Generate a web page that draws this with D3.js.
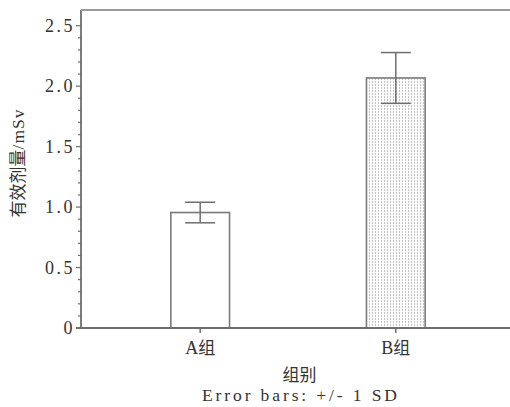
<!DOCTYPE html>
<html>
<head>
<meta charset="utf-8">
<script src="https://cdn.jsdelivr.net/npm/d3@7"></script>
<style>
  body { margin: 0; background: #fff; }
</style>
</head>
<body>
<svg id="chart" width="510" height="407"></svg>
<script>
// data
const groups = ["A组", "B组"];
const means = [0.955, 2.068];
const sds = [0.085, 0.21];
const yTicks = [0, 0.5, 1.0, 1.5, 2.0, 2.5];
const yTickLabels = ["0", "0.5", "1.0", "1.5", "2.0", "2.5"];

const latin = "Liberation Serif, DejaVu Serif, serif";
const cjk = "Noto Sans CJK SC, sans-serif";
const lineColor = "#6e6e6e";

const width = 510, height = 407;
const margin = { top: 10, right: 0, bottom: 79, left: 81 };
const plotBottom = height - margin.bottom;

const svg = d3.select("#chart");

const x = d3.scaleBand()
  .domain(groups)
  .range([margin.left + 3, width + 2])
  .paddingInner(0.7)
  .paddingOuter(0.444);

const y = d3.scaleLinear()
  .domain([0, 2.63])
  .range([plotBottom, margin.top]);

// dotted fill for group B
const defs = svg.append("defs");
const pat = defs.append("pattern")
  .attr("id", "dots")
  .attr("patternUnits", "userSpaceOnUse")
  .attr("width", 3)
  .attr("height", 3);
pat.append("rect").attr("width", 3).attr("height", 3).attr("fill", "#fff");
pat.append("rect").attr("width", 1).attr("height", 2).attr("fill", "#c4c4c4");

// bars
svg.append("g")
  .selectAll("rect")
  .data(groups)
  .join("rect")
  .attr("x", (d) => x(d))
  .attr("width", x.bandwidth())
  .attr("y", (d, i) => y(means[i]))
  .attr("height", (d, i) => y(0) - y(means[i]))
  .attr("fill", (d, i) => (i === 0 ? "#fff" : "url(#dots)"))
  .attr("stroke", "#7a7a7a")
  .attr("stroke-width", 1.6);

// error bars
const capHalf = 15;
const err = svg.append("g")
  .attr("stroke", lineColor)
  .attr("stroke-width", 1.5)
  .selectAll("g")
  .data(groups)
  .join("g")
  .attr("transform", (d) => `translate(${x(d) + x.bandwidth() / 2},0)`);
err.append("line")
  .attr("y1", (d, i) => y(means[i] + sds[i]))
  .attr("y2", (d, i) => y(means[i] - sds[i]));
err.append("line")
  .attr("x1", -capHalf).attr("x2", capHalf)
  .attr("y1", (d, i) => y(means[i] + sds[i]))
  .attr("y2", (d, i) => y(means[i] + sds[i]));
err.append("line")
  .attr("x1", -capHalf).attr("x2", capHalf)
  .attr("y1", (d, i) => y(means[i] - sds[i]))
  .attr("y2", (d, i) => y(means[i] - sds[i]));

// y axis: minor ticks every 0.1
const minor = d3.range(0, 26).map((k) => k / 10);
svg.append("g")
  .attr("stroke", lineColor)
  .attr("stroke-width", 1.2)
  .selectAll("line")
  .data(minor)
  .join("line")
  .attr("x1", (d) => (Math.abs(d * 2 - Math.round(d * 2)) < 1e-6 ? margin.left - 5 : margin.left - 3))
  .attr("x2", margin.left)
  .attr("y1", (d) => y(d))
  .attr("y2", (d) => y(d));

svg.append("g")
  .attr("font-family", latin)
  .attr("font-size", 18)
  .attr("letter-spacing", 2.5)
  .attr("fill", "#333")
  .attr("text-anchor", "end")
  .selectAll("text")
  .data(yTicks)
  .join("text")
  .attr("x", margin.left - 6)
  .attr("y", (d) => y(d))
  .attr("dy", "0.35em")
  .text((d, i) => yTickLabels[i]);

// frame lines: left, top, bottom
const frame = svg.append("g").attr("stroke", lineColor).attr("stroke-width", 1.8);
frame.append("line")
  .attr("x1", margin.left).attr("x2", margin.left)
  .attr("y1", y.range()[1]).attr("y2", y.range()[0]);
frame.append("line")
  .attr("x1", margin.left).attr("x2", width)
  .attr("y1", y.range()[1]).attr("y2", y.range()[1])
  .attr("stroke", "#9a9a9a");
frame.append("line")
  .attr("x1", margin.left - 5).attr("x2", width)
  .attr("y1", y(0)).attr("y2", y(0));

// x ticks and labels
const xt = svg.append("g")
  .selectAll("g")
  .data(groups)
  .join("g")
  .attr("transform", (d) => `translate(${x(d) + x.bandwidth() / 2},${y(0)})`);
xt.append("line")
  .attr("y2", 5)
  .attr("stroke", lineColor)
  .attr("stroke-width", 1.5);
const xl = xt.append("text")
  .attr("y", 26)
  .attr("text-anchor", "middle")
  .attr("fill", "#333");
xl.append("tspan")
  .attr("font-family", latin)
  .attr("font-size", 18)
  .text((d) => d.slice(0, 1));
xl.append("tspan")
  .attr("font-family", cjk)
  .attr("font-size", 17)
  .text((d) => d.slice(1));

// axis titles
const cx = (margin.left + width) / 2 + 4;
svg.append("text")
  .attr("x", cx)
  .attr("y", 381)
  .attr("text-anchor", "middle")
  .attr("font-family", cjk)
  .attr("font-size", 17)
  .attr("fill", "#333")
  .text("组别");

svg.append("text")
  .attr("x", cx)
  .attr("y", 401)
  .attr("text-anchor", "middle")
  .attr("font-family", latin)
  .attr("font-size", 17.5)
  .attr("textLength", 195)
  .attr("lengthAdjust", "spacing")
  .attr("fill", "#333")
  .text("Error bars: +/- 1 SD");

const yl = svg.append("text")
  .attr("transform", "translate(24,163) rotate(-90)")
  .attr("text-anchor", "middle")
  .attr("fill", "#333");
yl.append("tspan")
  .attr("font-family", cjk)
  .attr("font-size", 17)
  .text("有效剂量");
yl.append("tspan")
  .attr("font-family", latin)
  .attr("font-size", 17.5)
  .attr("letter-spacing", 1)
  .text("/mSv");
</script>
</body>
</html>
